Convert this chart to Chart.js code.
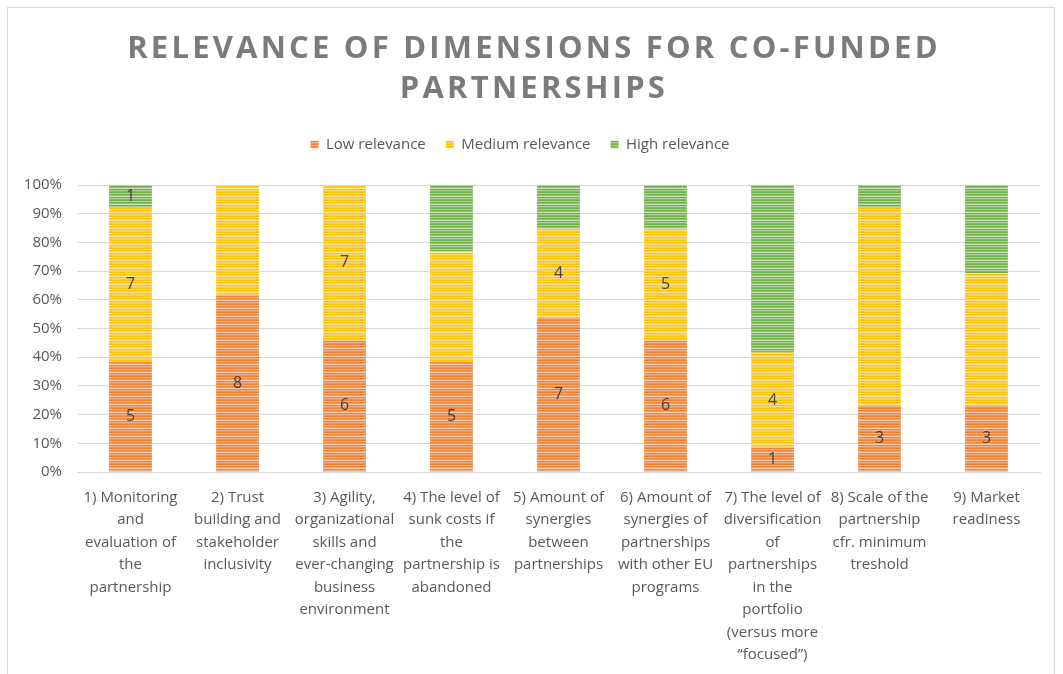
<!DOCTYPE html>
<html>
<head>
<meta charset="utf-8">
<script src="https://cdn.jsdelivr.net/npm/chart.js@4.4.1/dist/chart.umd.min.js"></script>
<style>
    html, body { margin: 0; padding: 0; background: #fff; }
    #frame {
        position: absolute;
        left: 7px; top: 7px;
        width: 1048px; height: 680px;
        border: 1px solid #d9d9d9;
        box-sizing: border-box;
    }
    #wrap { position: absolute; left: 0; top: 0; width: 1063px; height: 674px; }
</style>
</head>
<body>
<div id="frame"></div>
<div id="wrap"><canvas id="chart"></canvas></div>
<script>
// category labels, already wrapped the way they are printed under the bars
const categories = [
    ['1) Monitoring', 'and', 'evaluation of', 'the', 'partnership'],
    ['2) Trust', 'building and', 'stakeholder', 'inclusivity'],
    ['3) Agility,', 'organizational', 'skills and', 'ever-changing', 'business', 'environment'],
    ['4) The level of', 'sunk costs if', 'the', 'partnership is', 'abandoned'],
    ['5) Amount of', 'synergies', 'between', 'partnerships'],
    ['6) Amount of', 'synergies of', 'partnerships', 'with other EU', 'programs'],
    ['7) The level of', 'diversification', 'of', 'partnerships', 'in the', 'portfolio', '(versus more', '\u201Cfocused\u201D)'],
    ['8) Scale of the', 'partnership', 'cfr. minimum', 'treshold'],
    ['9) Market', 'readiness']
];

// number of answers per relevance level
const lowCounts = [5, 8, 6, 5, 7, 6, 1, 3, 3];
const mediumCounts = [7, 5, 7, 5, 4, 5, 4, 9, 6];
const highCounts = [1, 0, 0, 3, 2, 2, 7, 1, 4];

// which segments carry a printed count
const lowShown = [true, true, true, true, true, true, true, true, true];
const mediumShown = [true, false, true, false, true, true, true, false, false];
const highShown = [true, false, false, false, false, false, false, false, false];

const yTicks = [0, 10, 20, 30, 40, 50, 60, 70, 80, 90, 100];

const titleLines = ['RELEVANCE OF DIMENSIONS FOR CO-FUNDED', 'PARTNERSHIPS'];
const FONT = '"Open Sans", Lato, sans-serif';

const totals = lowCounts.map((v, i) => v + mediumCounts[i] + highCounts[i]);
const toPct = (arr) => arr.map((v, i) => v / totals[i] * 100);

function mix(hex, t) {
    const n = parseInt(hex.slice(1), 16);
    const r = (n >> 16) & 255, g = (n >> 8) & 255, b = n & 255;
    const m = (c) => Math.round(c + (255 - c) * t);
    return `rgb(${m(r)},${m(g)},${m(b)})`;
}

// horizontal stripe fill like the office "wide horizontal" pattern
function stripes(base) {
    const c = document.createElement('canvas');
    c.width = 4;
    c.height = 8;
    const g = c.getContext('2d');
    const rows = [0, 0.5, 0, 0.25, 0.65, 0, 0.4, 0.15];
    rows.forEach((t, y) => {
        g.fillStyle = t === 0 ? base : mix(base, t);
        g.fillRect(0, y, 4, 1);
    });
    return g.createPattern(c, 'repeat');
}

const segmentLabels = {
    id: 'segmentLabels',
    afterDatasetsDraw(chart) {
        const ctx = chart.ctx;
        const counts = [lowCounts, mediumCounts, highCounts];
        const shown = [lowShown, mediumShown, highShown];
        ctx.save();
        ctx.font = '16px ' + FONT;
        ctx.fillStyle = '#404040';
        ctx.textAlign = 'center';
        ctx.textBaseline = 'middle';
        chart.data.datasets.forEach((ds, d) => {
            chart.getDatasetMeta(d).data.forEach((bar, i) => {
                if (!shown[d][i] || !counts[d][i]) return;
                const yMid = (bar.y + bar.base) / 2;
                ctx.fillText(String(counts[d][i]), bar.x, yMid);
            });
        });
        ctx.restore();
    }
};

const spacedTitle = {
    id: 'spacedTitle',
    afterDraw(chart) {
        const ctx = chart.ctx;
        ctx.save();
        ctx.font = 'bold 31px "Open Sans", sans-serif';
        ctx.letterSpacing = '3.2px';
        ctx.fillStyle = '#7b7b7b';
        ctx.textAlign = 'center';
        ctx.textBaseline = 'middle';
        titleLines.forEach((line, i) => {
            ctx.fillText(line, 534, 49 + i * 40);
        });
        ctx.restore();
    }
};

// leave extra room between the legend row and the plot
const legendGap = {
    id: 'legendGap',
    beforeLayout(chart) {
        const lg = chart.legend;
        if (lg && !lg._gapPatched) {
            const fit = lg.fit.bind(lg);
            lg.fit = function () {
                fit();
                this.height += 23;
            };
            lg._gapPatched = true;
        }
    }
};

const ctx = document.getElementById('chart');

new Chart(ctx, {
    type: 'bar',
    data: {
        labels: categories,
        datasets: [
            { label: 'Low relevance', data: toPct(lowCounts), backgroundColor: stripes('#ED7D31') },
            { label: 'Medium relevance', data: toPct(mediumCounts), backgroundColor: stripes('#FFC000') },
            { label: 'High relevance', data: toPct(highCounts), backgroundColor: stripes('#70AD47') }
        ]
    },
    options: {
        responsive: true,
        maintainAspectRatio: false,
        animation: false,
        datasets: {
            bar: { barPercentage: 0.4, categoryPercentage: 1.0, borderWidth: 0 }
        },
        layout: { padding: { top: 117, left: 0, right: 23, bottom: 0 } },
        plugins: {
            tooltip: { enabled: false },
            legend: {
                position: 'top',
                labels: {
                    font: { family: FONT, size: 15 },
                    color: '#595959',
                    boxWidth: 8,
                    boxHeight: 8,
                    padding: 20
                }
            }
        },
        scales: {
            x: {
                stacked: true,
                grid: { display: false },
                border: { color: '#d9d9d9', width: 1 },
                ticks: {
                    font: { family: FONT, size: 15, lineHeight: 1.5 },
                    color: '#595959',
                    maxRotation: 0,
                    autoSkip: false,
                    padding: 6
                },
                afterFit(scale) { scale.height = 202; }
            },
            y: {
                stacked: true,
                min: 0,
                max: 100,
                grid: { color: '#d9d9d9', lineWidth: 1, drawTicks: false },
                border: { display: false },
                afterBuildTicks(scale) {
                    scale.ticks = yTicks.map((v) => ({ value: v }));
                },
                ticks: {
                    font: { family: FONT, size: 15 },
                    color: '#595959',
                    padding: 15,
                    callback: (v) => v + '%'
                },
                afterFit(scale) { scale.width = 77; }
            }
        }
    },
    plugins: [segmentLabels, spacedTitle, legendGap]
});
</script>
</body>
</html>
